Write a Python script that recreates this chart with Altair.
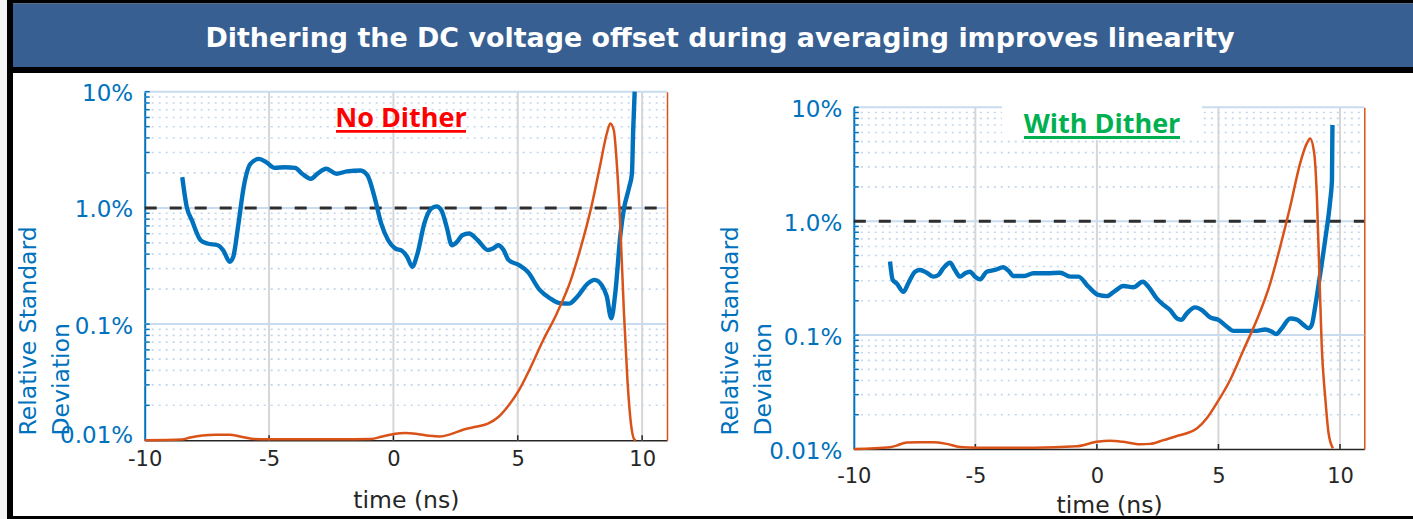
import altair as alt
import pandas as pd

W, H = 1413, 519

BLUE = "#0072BD"
ORANGE = "#D95319"
INK = "#262626"
BANNER = "#375F92"
AX_FONT = "DejaVu Sans"
HEAD_FONT = "Open Sans"

# ---------------------------------------------------------------- data
title_text = "Dithering the DC voltage offset during averaging improves linearity"

# No dither: relative standard deviation (%) vs time (ns)
nd_t_rsd = [-8.49, -8.31, -8.10, -7.75, -7.48, -7.06, -6.85, -6.58, -6.44, -6.23,
            -6.02, -5.75, -5.40, -5.12, -4.78, -4.36, -3.95, -3.67, -3.32, -3.05,
            -2.70, -2.29, -1.87, -1.32, -1.04, -0.76, -0.49, -0.21, 0.07, 0.34,
            0.55, 0.76, 0.97, 1.24, 1.52, 1.73, 1.93, 2.14, 2.35, 2.56,
            2.77, 3.04, 3.39, 3.80, 4.01, 4.22, 4.43, 4.63, 5.05, 5.40,
            5.88, 6.29, 6.71, 7.06, 7.40, 7.82, 8.09, 8.37, 8.58, 8.76,
            8.92, 9.13, 9.27, 9.48, 9.59, 9.64, 9.70]
nd_rsd = [1.84, 1.02, 0.78, 0.527, 0.494, 0.477, 0.434, 0.344, 0.38, 0.733,
          1.51, 2.39, 2.64, 2.48, 2.21, 2.24, 2.21, 1.97, 1.78, 1.97,
          2.17, 1.97, 2.06, 2.10, 1.90, 1.24, 0.733, 0.527, 0.448, 0.428,
          0.38, 0.312, 0.406, 0.733, 0.986, 1.03, 0.953, 0.687, 0.477, 0.511,
          0.582, 0.602, 0.527, 0.434, 0.448, 0.477, 0.434, 0.356, 0.322, 0.282,
          0.197, 0.167, 0.151, 0.150, 0.173, 0.224, 0.24, 0.217, 0.173, 0.112,
          0.184, 0.60, 0.986, 1.51, 1.97, 4.62, 10.0]
# No dither: normalised pulse shape (right axis)
nd_t_pulse = [-10.0, -8.51, -8.17, -7.68, -7.13, -6.58, -6.16, -5.61, -5.05, -3.67,
              -2.29, -0.90, -0.49, 0.07, 0.48, 0.90, 1.45, 1.87, 2.28, 2.83,
              3.25, 3.80, 4.22, 4.63, 5.05, 5.46, 6.02, 6.57, 7.13, 7.54,
              7.96, 8.30, 8.58, 8.72, 8.86, 8.99, 9.13, 9.27, 9.41, 9.55,
              9.69, 9.75]
nd_pulse = [0.0, 0.002, 0.008, 0.014, 0.016, 0.016, 0.011, 0.004, 0.003, 0.003,
            0.003, 0.004, 0.010, 0.019, 0.021, 0.019, 0.013, 0.011, 0.017, 0.031,
            0.038, 0.048, 0.067, 0.100, 0.144, 0.201, 0.287, 0.364, 0.459, 0.555,
            0.670, 0.785, 0.880, 0.909, 0.890, 0.785, 0.603, 0.364, 0.172, 0.048,
            0.002, 0.0]

# With dither: relative standard deviation (%) vs time (ns)
wd_t_rsd = [-8.51, -8.40, -8.24, -7.96, -7.76, -7.48, -7.28, -7.00, -6.73, -6.52,
            -6.32, -6.04, -5.84, -5.63, -5.42, -5.22, -5.01, -4.81, -4.53, -4.19,
            -3.85, -3.64, -3.43, -3.02, -2.61, -2.06, -1.51, -1.10, -0.76, -0.35,
            0.06, 0.41, 0.75, 1.09, 1.50, 1.89, 2.12, 2.46, 2.74, 3.01,
            3.29, 3.47, 3.70, 4.04, 4.32, 4.66, 5.00, 5.34, 5.62, 6.17,
            6.58, 6.92, 7.20, 7.37, 7.61, 7.95, 8.23, 8.50, 8.71, 8.84,
            8.98, 9.19, 9.39, 9.60, 9.67, 9.69]
wd_rsd = [0.442, 0.305, 0.285, 0.240, 0.285, 0.360, 0.373, 0.353, 0.326, 0.337,
          0.386, 0.432, 0.373, 0.326, 0.349, 0.360, 0.326, 0.309, 0.360, 0.373,
          0.394, 0.368, 0.330, 0.330, 0.349, 0.349, 0.353, 0.326, 0.326, 0.266,
          0.225, 0.220, 0.245, 0.270, 0.263, 0.294, 0.266, 0.210, 0.184, 0.166,
          0.140, 0.136, 0.155, 0.175, 0.166, 0.143, 0.136, 0.119, 0.109, 0.109,
          0.109, 0.112, 0.107, 0.102, 0.115, 0.140, 0.137, 0.123, 0.115, 0.123,
          0.178, 0.349, 0.684, 1.535, 2.30, 7.0]
# With dither: normalised pulse shape (right axis)
wd_t_pulse = [-10.0, -8.51, -8.24, -7.82, -7.28, -6.73, -6.18, -5.63, -4.94, -2.61,
              -0.83, -0.01, 0.54, 1.09, 1.78, 2.19, 2.74, 3.29, 3.70, 4.11,
              4.52, 4.93, 5.48, 6.03, 6.58, 7.13, 7.54, 7.95, 8.36, 8.64,
              8.77, 8.94, 9.05, 9.16, 9.25, 9.39, 9.53, 9.71]
wd_pulse = [0.0, 0.005, 0.010, 0.019, 0.020, 0.020, 0.015, 0.006, 0.004, 0.004,
            0.008, 0.021, 0.024, 0.021, 0.014, 0.015, 0.026, 0.038, 0.046, 0.060,
            0.090, 0.134, 0.202, 0.290, 0.378, 0.485, 0.592, 0.709, 0.836, 0.895,
            0.909, 0.865, 0.738, 0.495, 0.299, 0.153, 0.046, 0.002]

x_domain = [-10, 11]
x_ticks = [-10, -5, 0, 5, 10]
x_grid = [-5, 0, 5, 10]
y_domain = [0.01, 10]
y_ticks = [0.01, 0.1, 1, 10]
y_tick_labels = ["0.01%", "0.1%", "1.0%", "10%"]
y_decades = [0.01, 0.1, 1]
y_minor_steps = [2, 3, 4, 5, 6, 7, 8, 9]
threshold = [1.0]

y_minor = [d * m for d in y_decades for m in y_minor_steps]
y_all_ticks = sorted(y_ticks + y_minor)

y_label_expr = " : ".join(
    f"datum.value == {v} ? '{s}'" for v, s in zip(y_ticks, y_tick_labels)
) + " : ''"

one = pd.DataFrame({"k": [0]})


def rect(x, x2, y, y2, color):
    return alt.Chart(one).mark_rect(color=color, strokeWidth=0).encode(
        x=alt.value(x), x2=alt.value(x2), y=alt.value(y), y2=alt.value(y2))


def panel(g, t_rsd, rsd, t_pulse, pulse, label, label_color):
    """All layers of one panel; every layer carries its own copy of the scales."""
    def xs():
        return alt.Scale(domain=x_domain, range=[g["x0"], g["x1"]], nice=False, zero=False)

    def ys():
        return alt.Scale(type="log", domain=y_domain, range=[g["y0"], g["y1"]], nice=False)

    def ps():
        return alt.Scale(domain=[0, 1], range=[g["y0"], g["y1"]], nice=False, zero=False)

    x_axis = alt.Axis(
        orient="bottom", offset=g["y0"] - H, values=x_ticks,
        labelExpr="'' + datum.value", labelFont=AX_FONT, labelFontSize=21,
        labelColor=INK, labelPadding=g["xlab_pad"], labelFlush=False,
        labelOverlap=False, ticks=True, tickSize=0, tickOpacity=0,
        domainColor=INK, domainWidth=1.5, grid=False,
        title="time (ns)", titleFont=AX_FONT, titleFontSize=23.5,
        titleFontWeight="normal", titleColor=INK,
        titleX=(g["x0"] + g["x1"]) / 2, titleY=g["xtitle_y"],
        titleAlign="center", titleBaseline="alphabetic")
    y_axis = alt.Axis(
        orient="left", offset=-g["x0"], values=y_ticks, labelExpr=y_label_expr,
        labelFont=AX_FONT, labelFontSize=23, labelColor=BLUE, labelPadding=12,
        labelOffset=2, labelBaseline=g["ylab_base"], labelFlush=False,
        labelOverlap=False, ticks=True, tickSize=0, tickOpacity=0,
        domainColor=BLUE, domainWidth=2, grid=False,
        title=["Relative Standard", "Deviation"], titleFont=AX_FONT,
        titleFontSize=23.5, titleFontWeight="normal", titleColor=BLUE,
        titleAngle=270, titleAlign="left", titleBaseline="alphabetic",
        titleX=g["ytitle_x"], titleY=435, titleLineHeight=33)
    p_axis = alt.Axis(
        orient="right", offset=g["x1"] - W, labels=False, ticks=False,
        grid=False, title=None, domainColor=ORANGE, domainWidth=1.5)

    rsd_df = pd.DataFrame({"t": t_rsd, "rsd": rsd})
    pulse_df = pd.DataFrame({"t": t_pulse, "amp": pulse})
    vgrid_df = pd.DataFrame({"t": x_grid})
    hmaj_df = pd.DataFrame({"v": y_ticks[1:]})
    hmin_df = pd.DataFrame({"v": y_minor})
    ytick_df = pd.DataFrame({"v": y_all_ticks})
    thr_df = pd.DataFrame({"v": threshold})

    def hrule(df, **mark):
        return alt.Chart(df).mark_rule(**mark).encode(
            y=alt.Y("v:Q", scale=ys(), axis=None),
            x=alt.X(datum=x_domain[0], scale=xs(), axis=None),
            x2=alt.X2(datum=x_domain[1]))

    vgrid = alt.Chart(vgrid_df).mark_rule(color="#d6d6d6", strokeWidth=2).encode(
        x=alt.X("t:Q", scale=xs(), axis=None),
        y=alt.Y(datum=y_domain[0], scale=ys(), axis=None),
        y2=alt.Y2(datum=y_domain[1]))
    hminor = hrule(hmin_df, color="#c3d6eb", strokeWidth=1.6, strokeDash=[2, 5])
    hmajor = hrule(hmaj_df, color="#c8dbef", strokeWidth=2)
    yticks = alt.Chart(ytick_df).mark_rule(color=BLUE, strokeWidth=1.5).encode(
        y=alt.Y("v:Q", scale=ys(), axis=None),
        x=alt.value(g["x0"]), x2=alt.value(g["x0"] + 5))
    xticks = alt.Chart(vgrid_df).mark_rule(color=INK, strokeWidth=1.5).encode(
        x=alt.X("t:Q", scale=xs(), axis=None),
        y=alt.value(g["y0"]), y2=alt.value(g["y0"] - 5))
    layers = [vgrid, hminor, hmajor, yticks, xticks]
    if g.get("box"):
        bx0, bx1, by0, by1 = g["box"]
        layers.append(rect(bx0, bx1, by0, by1, "white"))
    thr = hrule(thr_df, color="#2e2e2e", strokeWidth=3, strokeDash=[12, 13])
    line = alt.Chart(rsd_df).mark_line(
        color=BLUE, strokeWidth=4.4, interpolate="monotone").encode(
        x=alt.X("t:Q", scale=xs(), axis=x_axis),
        y=alt.Y("rsd:Q", scale=ys(), axis=y_axis))
    pulse_line = alt.Chart(pulse_df).mark_line(
        color=ORANGE, strokeWidth=2.5, interpolate="monotone").encode(
        x=alt.X("t:Q", scale=xs(), axis=None),
        y=alt.Y("amp:Q", scale=ps(), axis=p_axis))
    tx, ty, ux0, ux1, uy, uw = g["label"]
    head = alt.Chart(one).mark_text(
        font=HEAD_FONT, fontWeight="bold", fontSize=27, color=label_color,
        align="center", baseline="alphabetic").encode(
        x=alt.value(tx), y=alt.value(ty), text=alt.value(label))
    underline = alt.Chart(one).mark_rule(color=label_color, strokeWidth=uw).encode(
        x=alt.value(ux0), x2=alt.value(ux1), y=alt.value(uy))
    return layers + [thr, line, pulse_line, head, underline]


LEFT = dict(x0=144.7, x1=667.0, y0=440.3, y1=91.7, xlab_pad=8.4, xtitle_y=67.5,
            ytitle_x=-109.5,
            ylab_base={"condition": {"test": "datum.value < 0.02", "value": "alphabetic"},
                       "value": "middle"},
            label=(401, 126.7, 336, 466, 131.3, 2.7))
RIGHT = dict(x0=853.8, x1=1364.3, y0=449.0, y1=107.3, xlab_pad=16.4, xtitle_y=63.5,
             ytitle_x=-116.5, ylab_base="middle",
             box=(1002, 1202, 95, 140),
             label=(1102, 133.3, 1024, 1180, 137.5, 3))

frame = [
    rect(0, 7, 0, H, "#f4f4f4"),
    rect(7, W, 0, 3.5, "black"),
    rect(13, W, 3.5, 67, BANNER),
    rect(7, W, 67, 73, "black"),
    rect(7, 13, 0, H, "black"),
    alt.Chart(one).mark_text(
        font=AX_FONT, fontWeight="bold", fontSize=26.9, color="white",
        align="center", baseline="alphabetic").encode(
        x=alt.value(720), y=alt.value(47), text=alt.value(title_text)),
]
frame_front = [rect(7, W, 516, H, "black")]

chart = alt.layer(
    *frame,
    *panel(LEFT, nd_t_rsd, nd_rsd, nd_t_pulse, nd_pulse, "No Dither", "#FF0000"),
    *panel(RIGHT, wd_t_rsd, wd_rsd, wd_t_pulse, wd_pulse, "With Dither", "#00B050"),
    *frame_front,
).resolve_scale(x="independent", y="independent").properties(
    width=W, height=H, padding=0, background="white",
    autosize=alt.AutoSizeParams(type="none"),
).configure_view(stroke=None)

chart.save("out.html", embed_options={"renderer": "svg", "actions": False})
